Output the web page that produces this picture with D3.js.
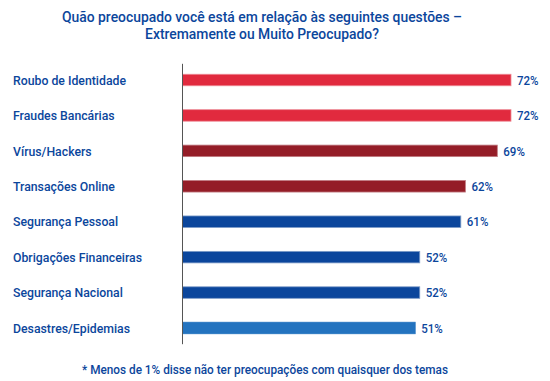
<!DOCTYPE html>
<html>
<head>
<meta charset="utf-8">
<script src="https://cdn.jsdelivr.net/npm/d3@7/dist/d3.min.js"></script>
<style>
  html, body { margin: 0; padding: 0; background: #ffffff; }
  svg { display: block; }
  text { font-family: "Roboto", "Liberation Sans", sans-serif; font-weight: 500; }
</style>
</head>
<body>
<svg id="chart" width="550" height="381"></svg>
<script>
const titleLines = ["Quão preocupado você está em relação às seguintes questões –", "Extremamente ou Muito Preocupado?"];
const footnote = "* Menos de 1% disse não ter preocupações com quaisquer dos temas";
const categories = ["Roubo de Identidade", "Fraudes Bancárias", "Vírus/Hackers", "Transações Online", "Segurança Pessoal", "Obrigações Financeiras", "Segurança Nacional", "Desastres/Epidemias"];
const values = [72, 72, 69, 62, 61, 52, 52, 51];
const groups = ["red", "red", "darkred", "darkred", "blue", "blue", "blue", "lightblue"];
const groupColors = { red: "#E12A3E", darkred: "#941D27", blue: "#0B469C", lightblue: "#2373BF" };
const groupStroke = { red: "#EE8A95", darkred: "#C07A80", blue: "#7D9BC8", lightblue: "#2373BF" };

const textColor = "#0B469C";
const svg = d3.select("#chart");
const x0 = 182.5;
const x = d3.scaleLinear().domain([0, 72]).range([x0, 511]);
const y = d3.scaleBand().domain(categories).range([62.3, 345.7]).paddingInner(0.675).paddingOuter(0.3375);

// condense a group of texts horizontally so that the reference element gets the target width
function condense(sel, refNode, target) {
  const ratio = target / refNode.getComputedTextLength();
  sel.each(function () {
    const w = this.getComputedTextLength();
    this.setAttribute("textLength", (w * ratio).toFixed(2));
    this.setAttribute("lengthAdjust", "spacingAndGlyphs");
  });
}

const title = svg.append("g").selectAll("text").data(titleLines).join("text")
  .attr("x", 262).attr("y", (d, i) => 21.6 + i * 17.4)
  .attr("text-anchor", "middle")
  .attr("font-size", 14.5)
  .attr("fill", textColor)
  .text(d => d);
condense(title, title.node(), 400);

svg.append("g").selectAll("rect").data(values).join("rect")
  .attr("x", x(0))
  .attr("y", (d, i) => y(categories[i]))
  .attr("width", d => x(d) - x(0))
  .attr("height", y.bandwidth())
  .attr("fill", (d, i) => groupColors[groups[i]])
  .attr("stroke", (d, i) => groupStroke[groups[i]])
  .attr("stroke-width", 0.8);

const labels = svg.append("g").selectAll("text").data(categories).join("text")
  .attr("x", 13)
  .attr("y", d => y(d) + y.bandwidth() / 2)
  .attr("dy", "0.35em")
  .attr("font-size", 13.5)
  .attr("fill", textColor)
  .text(d => d);
condense(labels, labels.node(), 113);

const vlabels = svg.append("g").selectAll("text").data(values).join("text")
  .attr("x", d => x(d) + 6)
  .attr("y", (d, i) => y(categories[i]) + y.bandwidth() / 2)
  .attr("dy", "0.35em")
  .attr("font-size", 13.5)
  .attr("fill", textColor)
  .text(d => d + "%");
condense(vlabels, vlabels.node(), 21.6);

svg.append("line")
  .attr("x1", x0).attr("x2", x0)
  .attr("y1", y.range()[0] + 1.5).attr("y2", y.range()[1] - 1.5)
  .attr("stroke", "#555555").attr("stroke-width", 1);

const foot = svg.append("text")
  .attr("x", 265).attr("y", 374)
  .attr("text-anchor", "middle")
  .attr("font-size", 13.5)
  .attr("fill", textColor)
  .text(footnote);
condense(foot, foot.node(), 366);
</script>
</body>
</html>
